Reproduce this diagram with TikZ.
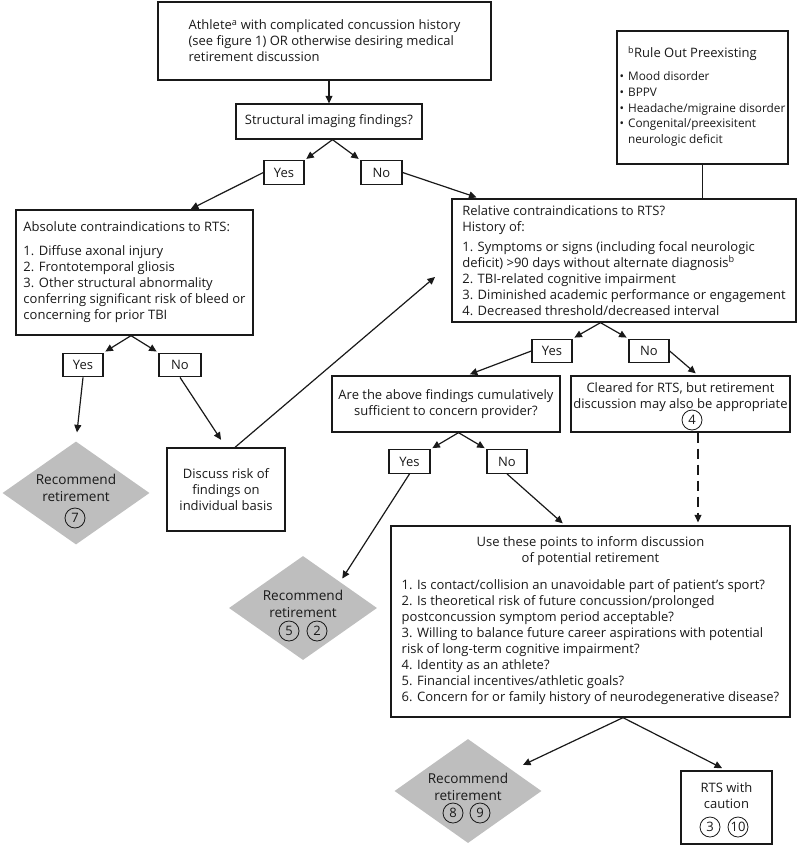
\documentclass[tikz,border=0pt]{standalone}
\usepackage{fontspec}
\setmainfont{Open Sans}
\usetikzlibrary{arrows.meta,shapes.geometric,calc}
\newcommand{\figfont}{\fontsize{13}{16}\selectfont}
\newcommand{\smallfigfont}{\fontsize{11.8}{15.8}\selectfont}
\newcommand{\diafont}{\fontsize{13.6}{17}\selectfont}
\definecolor{diagray}{RGB}{190,190,190}
\definecolor{ink}{RGB}{25,25,25}
\begin{document}
\begin{tikzpicture}[x=1pt,y=-1pt,
  box/.style={draw=ink, line width=1.3pt, rectangle, inner sep=0pt, font=\figfont, text=ink},
  yn/.style={box, minimum height=23.5pt},
  dia/.style={diamond, fill=diagray, draw=none, inner sep=0pt, aspect=1.41},
  num/.style={circle, draw=ink, line width=0.8pt, inner sep=0pt, minimum size=20pt, font=\figfont, text=ink},
  arr/.style={draw=ink, -{Triangle[length=7.5pt,width=7pt]}, line width=1.2pt},
  link/.style={draw=ink, line width=1.2pt},
  txt/.style={font=\diafont, text=ink, align=center, inner sep=0pt}]
\useasboundingbox (0,0) rectangle (799,846);

% top
\node[box, align=left, minimum width=333pt, minimum height=78pt] (top) at (324.5,41)
 {Athlete\textsuperscript{a} with complicated concussion history\\(see figure 1) OR otherwise desiring medical\\retirement discussion};
\node[box, minimum width=186pt, minimum height=35pt] (struct) at (329,121.5) {Structural imaging findings?};
\node[yn, minimum width=40pt] (yes1) at (284,172.5) {Yes};
\node[yn, minimum width=41pt] (no1) at (381.5,172.5) {No};

% rule out
\node[box, font=\smallfigfont, minimum width=171pt, minimum height=133pt] (rule) at (702.5,97.5)
 {\begin{tabular}{@{}l@{\hspace{4pt}}l@{}}
  & {\figfont\textsuperscript{b}Rule Out Preexisting}\\[7pt]
  • & Mood disorder\\
  • & BPPV\\
  • & Headache/migraine disorder\\
  • & Congenital/preexisitent\\
    & neurologic deficit
  \end{tabular}};

% absolute
\node[box, align=left, minimum width=237pt, minimum height=125pt] (abs) at (134.5,272.5)
 {Absolute contraindications to RTS:\\[8pt]1. Diffuse axonal injury\\2. Frontotemporal gliosis\\3. Other structural abnormality\\conferring significant risk of bleed or\\concerning for prior TBI};
\node[yn, minimum width=40pt] (yes2) at (83,365) {Yes};
\node[yn, minimum width=42pt] (no2) at (180,365) {No};

% relative
\node[box, align=left, minimum width=344pt, minimum height=123pt] (rel) at (624,260.5)
 {Relative contraindications to RTS?\\History of:\\[4pt]1. Symptoms or signs (including focal neurologic\\deficit) >90 days without alternate diagnosis\textsuperscript{b}\\2. TBI-related cognitive impairment\\3. Diminished academic performance or engagement\\4. Decreased threshold/decreased interval};
\node[yn, minimum width=40pt] (yes3) at (552,351) {Yes};
\node[yn, minimum width=40pt] (no3) at (649,351) {No};

\node[box, align=center, minimum width=228pt, minimum height=56pt] (are) at (446,404)
 {Are the above findings cumulatively\\sufficient to concern provider?};
\node[box, align=center, minimum width=219pt, minimum height=56pt] (cl) at (680.5,404)
 {Cleared for RTS, but retirement\\discussion may also be appropriate\\\phantom{X}};
\node[num] (n4) at (692,420) {4};

\node[yn, minimum width=41pt] (yes4) at (409.5,461.5) {Yes};
\node[yn, minimum width=40pt] (no4) at (507,461.5) {No};

% diamond 1 and discuss
\node[dia, minimum width=147pt, minimum height=103pt] (d1) at (76,493) {};
\node[txt] (d1t) at (76,488) {Recommend\\retirement};
\node[num] (n7) at (75,518) {7};
\node[box, align=center, minimum width=118pt, minimum height=83pt] (disc) at (226,489.5)
 {Discuss risk of\\findings on\\individual basis};

% diamond 2
\node[dia, minimum width=148pt, minimum height=104pt] (d2) at (303,608) {};
\node[txt] (d2t) at (303,603.5) {Recommend\\retirement};
\node[num] (n5) at (289,631) {5};
\node[num] (n2) at (317,631) {2};

% use box
\node[box, align=center, minimum width=399pt, minimum height=191pt] (use) at (590.5,621.5)
 {Use these points to inform discussion\\of potential retirement\\[11pt]%
  {\begin{tabular}[t]{@{}l@{}}
   1. Is contact/collision an unavoidable part of patient’s sport?\\
   2. Is theoretical risk of future concussion/prolonged\\
   postconcussion symptom period acceptable?\\
   3. Willing to balance future career aspirations with potential\\
   risk of long-term cognitive impairment?\\
   4. Identity as an athlete?\\
   5. Financial incentives/athletic goals?\\
   6. Concern for or family history of neurodegenerative disease?
  \end{tabular}}};

% bottom
\node[dia, minimum width=147pt, minimum height=104pt] (d3) at (468,791) {};
\node[txt] (d3t) at (468,786.5) {Recommend\\retirement};
\node[num] (n8) at (453,813) {8};
\node[num] (n9) at (480,813) {9};
\node[box, align=center, minimum width=91pt, minimum height=73pt] (rts) at (726.5,807.5)
 {RTS with\\caution\\[8pt]\phantom{X}};
\node[num] (n3) at (710,827) {3};
\node[num] (n10) at (738,827) {10};

% connectors
\draw[arr] (struct.north |- top.south) -- (struct.north);
\coordinate (m1) at ($(yes1.north east)!.5!(no1.north west)$);
\coordinate (s1) at (m1 |- struct.south);
\draw[arr, shorten >=2pt] (s1) -- (yes1.north east);
\draw[arr, shorten >=2pt] (s1) -- (no1.north west);
\draw[arr, shorten >=1pt] (yes1.west) -- ([xshift=55.5pt]abs.north);
\draw[arr, shorten >=3pt] (no1.east) -- ([xshift=28pt]rel.north west);
\draw[link] (rule.south) -- (rule.south |- rel.north);

\coordinate (m2) at ($(yes2.north east)!.5!(no2.north west)$);
\coordinate (s2) at (m2 |- abs.south);
\draw[arr, shorten >=2pt] (s2) -- (yes2.north east);
\draw[arr, shorten >=2pt] (s2) -- (no2.north west);
\draw[arr, shorten >=9pt] (yes2.south) -- (d1.north);
\draw[arr, shorten >=9pt] (no2.south) -- (disc.north);
\coordinate (t1) at (435,277);
\draw[arr] ([xshift=9pt]disc.north) -- (t1);

\coordinate (m3) at ($(yes3.north east)!.5!(no3.north west)$);
\coordinate (s3) at (m3 |- rel.south);
\draw[arr, shorten >=2pt] (s3) -- (yes3.north east);
\draw[arr, shorten >=2pt] (s3) -- (no3.north west);
\draw[arr, shorten >=3pt] (yes3.west) -- ([xshift=21pt]are.north);
\draw[arr, shorten >=3pt] (no3.east) -- ([xshift=17.5pt]cl.north);

\coordinate (m4) at ($(yes4.north east)!.5!(no4.north west)$);
\coordinate (s4) at (m4 |- are.south);
\draw[arr, shorten >=2pt] (s4) -- (yes4.north east);
\draw[arr, shorten >=2pt] (s4) -- (no4.north west);
\draw[arr, shorten >=4pt] (yes4.south) -- ($(d2.north)!.5!(d2.east)$);
\draw[arr, shorten >=3pt] (no4.south) -- ([xshift=-25.5pt]use.north);
\coordinate (dtop) at ($(cl.south)+(17.5,0)$);
\coordinate (dbot) at (dtop |- use.north);
\draw[arr, dash pattern=on 10pt off 6pt, shorten >=3pt] (dtop) -- (dbot);

\coordinate (s5) at ($(use.south)+(32.5,0)$);
\draw[arr, shorten >=12pt] (s5) -- (d3);
\draw[arr, shorten >=5pt] (s5) -- (rts.north);
\end{tikzpicture}
\end{document}
